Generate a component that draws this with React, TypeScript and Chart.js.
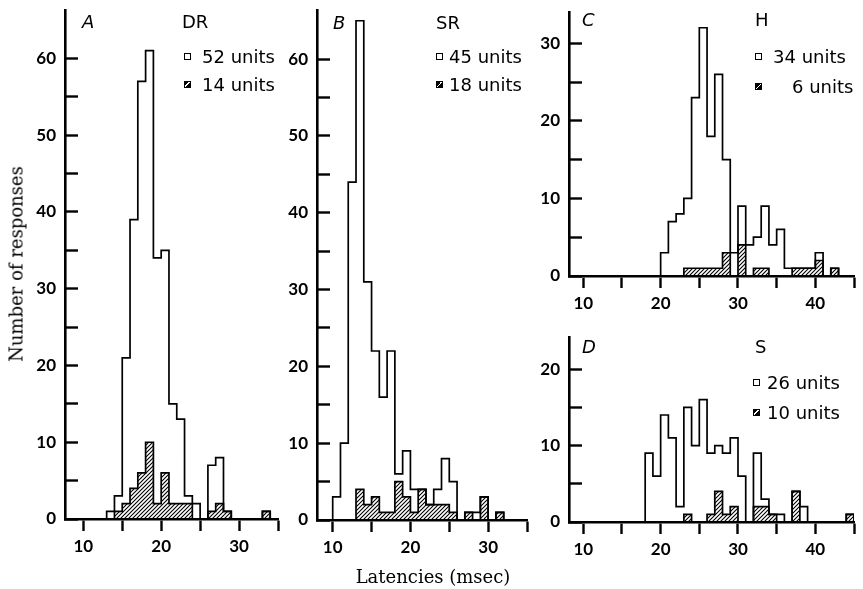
import React, { useEffect, useRef } from 'react';
import { Chart, registerables } from 'chart.js';

Chart.register(...registerables);

// ---- Data (1-msec bins, values = number of responses; start = left edge of first bin) ----
// Panel A – DR
const drOpenStart = 13;
const drOpen = [1, 3, 21, 39, 57, 61, 34, 35, 15, 13, 3, 2, 0, 7, 8, 1, 0, 0, 0, 0, 1];
const drHatchStart = 14;
const drHatch = [1, 2, 4, 6, 10, 2, 6, 2, 2, 2, 0, 0, 1, 2, 1, 0, 0, 0, 0, 1];

// Panel B – SR
const srOpenStart = 10;
const srOpen = [3, 10, 44, 65, 31, 22, 16, 22, 6, 9, 4, 4, 2, 4, 8, 5, 0, 1, 1, 3, 0, 1];
const srHatchStart = 13;
const srHatch = [4, 2, 3, 1, 1, 5, 3, 1, 4, 2, 2, 2, 1, 0, 1, 0, 3, 0, 1];

// Panel C – H
const hOpenStart = 20;
const hOpen = [3, 7, 8, 10, 23, 32, 18, 26, 15, 3, 9, 4, 5, 9, 4, 6, 1, 1, 1, 1, 3, 0, 1];
const hHatchStart = 23;
const hHatch = [1, 1, 1, 1, 1, 3, 0, 4, 0, 1, 1, 0, 0, 0, 1, 1, 1, 2, 0, 1];

// Panel D – S
const sOpenStart = 18;
const sOpen = [9, 6, 14, 11, 2, 15, 10, 16, 9, 10, 9, 11, 6, 0, 9, 3, 1, 1, 0, 4, 2, 0, 0, 0, 0, 0, 1];
const sHatchStart = 23;
const sHatch = [1, 0, 0, 1, 4, 1, 2, 0, 0, 2, 2, 1, 0, 0, 4, 0, 0, 0, 0, 0, 0, 1];

// Tick values
const xTicksAB = [10, 15, 20, 25, 30, 35];
const xTicksCD = [10, 15, 20, 25, 30, 35, 40, 45];
const yTicksAB = [0, 5, 10, 15, 20, 25, 30, 35, 40, 45, 50, 55, 60];
const yTicksC = [0, 5, 10, 15, 20, 25, 30];
const yTicksD = [0, 5, 10, 15, 20];

// Legend / label texts
const panelLetters = ['A', 'B', 'C', 'D'];
const panelTitles = ['DR', 'SR', 'H', 'S'];
const openLegend = ['52 units', '45 units', '34 units', '26 units'];
const hatchLegend = ['14 units', '18 units', '6 units', '10 units'];
const yTitle = 'Number of responses';
const xTitle = 'Latencies (msec)';

// ---- Layout ----
type Spec = {
  area: { l: number; t: number; r: number; b: number };
  xMin: number; xMax: number; yMax: number;
  xTicks: number[]; yTicks: number[];
  openStart: number; open: number[];
  hatchStart: number; hatch: number[];
};

const specs: Spec[] = [
  { area: { l: 65, t: 10, r: 278, b: 519 }, xMin: 7.65, xMax: 35, yMax: 66.3, xTicks: xTicksAB, yTicks: yTicksAB,
    openStart: drOpenStart, open: drOpen, hatchStart: drHatchStart, hatch: drHatch },
  { area: { l: 317, t: 10, r: 527, b: 520 }, xMin: 7.98, xMax: 35, yMax: 66.4, xTicks: xTicksAB, yTicks: yTicksAB,
    openStart: srOpenStart, open: srOpen, hatchStart: srHatchStart, hatch: srHatch },
  { area: { l: 569, t: 12, r: 854, b: 276 }, xMin: 8.15, xMax: 45, yMax: 34.03, xTicks: xTicksCD, yTicks: yTicksC,
    openStart: hOpenStart, open: hOpen, hatchStart: hHatchStart, hatch: hHatch },
  { area: { l: 569, t: 337, r: 854, b: 522 }, xMin: 8.15, xMax: 45, yMax: 24.2, xTicks: xTicksCD, yTicks: yTicksD,
    openStart: sOpenStart, open: sOpen, hatchStart: sHatchStart, hatch: sHatch },
];

const LEFT = 52, TOP = 40, RIGHT = 16, BOTTOM = 46;

function steps(start: number, values: number[]) {
  const pts: { x: number; y: number }[] = [{ x: start, y: 0 }];
  values.forEach((v, i) => pts.push({ x: start + i, y: v }));
  pts.push({ x: start + values.length, y: 0 });
  return pts;
}

function makeHatch(): CanvasPattern {
  const c = document.createElement('canvas');
  c.width = 4; c.height = 4;
  const g = c.getContext('2d')!;
  g.strokeStyle = '#000';
  g.lineWidth = 1.1;
  g.beginPath();
  g.moveTo(-1, 5); g.lineTo(5, -1);
  g.moveTo(-1, 1); g.lineTo(1, -1);
  g.moveTo(3, 5); g.lineTo(5, 3);
  g.stroke();
  return g.createPattern(c, 'repeat')!;
}

const tickFont = { family: 'Lato', size: 17, weight: 'bold' as const };

function Panel({ spec }: { spec: Spec }) {
  const ref = useRef<HTMLCanvasElement>(null);
  const w = spec.area.r - spec.area.l + LEFT + RIGHT;
  const h = spec.area.b - spec.area.t + TOP + BOTTOM;
  useEffect(() => {
    const chart = new Chart(ref.current!, {
      type: 'line',
      data: {
        datasets: [
          { data: steps(spec.hatchStart, spec.hatch), stepped: true, borderColor: '#000', borderWidth: 1.7,
            pointRadius: 0, fill: 'origin', backgroundColor: makeHatch() },
          { data: steps(spec.openStart, spec.open), stepped: true, borderColor: '#000', borderWidth: 1.7,
            pointRadius: 0, fill: false },
        ],
      } as any,
      options: {
        responsive: false,
        animation: false,
        events: [],
        layout: { padding: { left: 0, top: TOP, right: RIGHT, bottom: 0 } },
        plugins: { legend: { display: false }, tooltip: { enabled: false } },
        scales: {
          x: {
            type: 'linear', min: spec.xMin, max: spec.xMax,
            afterFit: (s: any) => { s.height = BOTTOM; },
            afterBuildTicks: (s: any) => { s.ticks = spec.xTicks.map((v) => ({ value: v })); },
            ticks: { callback: (v: any) => (v % 10 === 0 ? String(v) : ''), padding: 5, font: tickFont,
              color: '#000', maxRotation: 0, autoSkip: false },
            grid: { drawOnChartArea: false, tickLength: 12, tickWidth: 2.4, tickColor: '#000' },
            border: { display: true, color: '#000', width: 2.6 },
          },
          y: {
            type: 'linear', min: 0, max: spec.yMax,
            afterFit: (s: any) => { s.width = LEFT; },
            afterBuildTicks: (s: any) => { s.ticks = spec.yTicks.map((v) => ({ value: v })); },
            ticks: { callback: (v: any) => (v % 10 === 0 ? String(v) : ''), padding: 22, font: tickFont,
              color: '#000', autoSkip: false },
            grid: { drawOnChartArea: false, tickLength: -13, tickWidth: 2.4, tickColor: '#000' },
            border: { display: true, color: '#000', width: 2.6 },
          },
        },
      } as any,
    });
    return () => chart.destroy();
  }, []);
  return (
    <canvas ref={ref} width={w} height={h}
      style={{ position: 'absolute', left: spec.area.l - LEFT, top: spec.area.t - TOP, width: w, height: h }} />
  );
}

function T({ x, y, s, text, italic }: { x: number; y: number; s: number; text: string; italic?: boolean }) {
  return (
    <div style={{ position: 'absolute', left: x, top: y - 0.117 * s, fontFamily: 'DejaVu Sans', fontSize: s,
      lineHeight: `${s}px`, fontStyle: italic ? 'italic' : 'normal', whiteSpace: 'nowrap', color: '#000' }}>
      {text}
    </div>
  );
}

function OpenBox({ x, y }: { x: number; y: number }) {
  return <div style={{ position: 'absolute', left: x, top: y, width: 7, height: 7, boxSizing: 'border-box',
    border: '1.6px solid #000', background: '#fff' }} />;
}

function HatchBox({ x, y }: { x: number; y: number }) {
  return <div style={{ position: 'absolute', left: x, top: y, width: 7, height: 7, boxSizing: 'border-box',
    border: '1.2px solid #000', background: 'linear-gradient(135deg, #000 0 40%, #fff 40% 58%, #000 58%)' }} />;
}

// label positions: [letterX, letterY, titleX, titleY, boxX, textX, row1Y, row2Y, row2TextX]
const legendPos = [
  [82, 15, 182, 15, 184, 202, 50, 78, 202],
  [333, 16, 436, 16, 436, 449, 50, 78, 449],
  [582, 13, 755, 13, 755, 773, 50, 80, 792],
  [582, 340, 755, 340, 753, 767, 376, 406, 767],
];

export default function App() {
  return (
    <div style={{ position: 'fixed', left: 0, top: 0, width: 863, height: 589, background: '#fff', overflow: 'hidden' }}>
      {specs.map((s, i) => <Panel key={i} spec={s} />)}
      {legendPos.map((p, i) => (
        <React.Fragment key={i}>
          <T x={p[0]} y={p[1]} s={18} text={panelLetters[i]} italic />
          <T x={p[2]} y={p[3]} s={18} text={panelTitles[i]} />
          <OpenBox x={p[4]} y={p[6] + 3} />
          <T x={p[5]} y={p[6]} s={18} text={openLegend[i]} />
          <HatchBox x={p[4]} y={p[7] + 3} />
          <T x={p[8]} y={p[7]} s={18} text={hatchLegend[i]} />
        </React.Fragment>
      ))}
      <div style={{ position: 'absolute', left: 16, top: 264, transform: 'translate(-50%, -50%) rotate(-90deg)',
        fontFamily: 'DejaVu Serif', fontSize: 18, whiteSpace: 'nowrap', color: '#000' }}>{yTitle}</div>
      <div style={{ position: 'absolute', left: 433, top: 576, transform: 'translate(-50%, -50%)',
        fontFamily: 'DejaVu Serif', fontSize: 18, whiteSpace: 'nowrap', color: '#000' }}>{xTitle}</div>
    </div>
  );
}
